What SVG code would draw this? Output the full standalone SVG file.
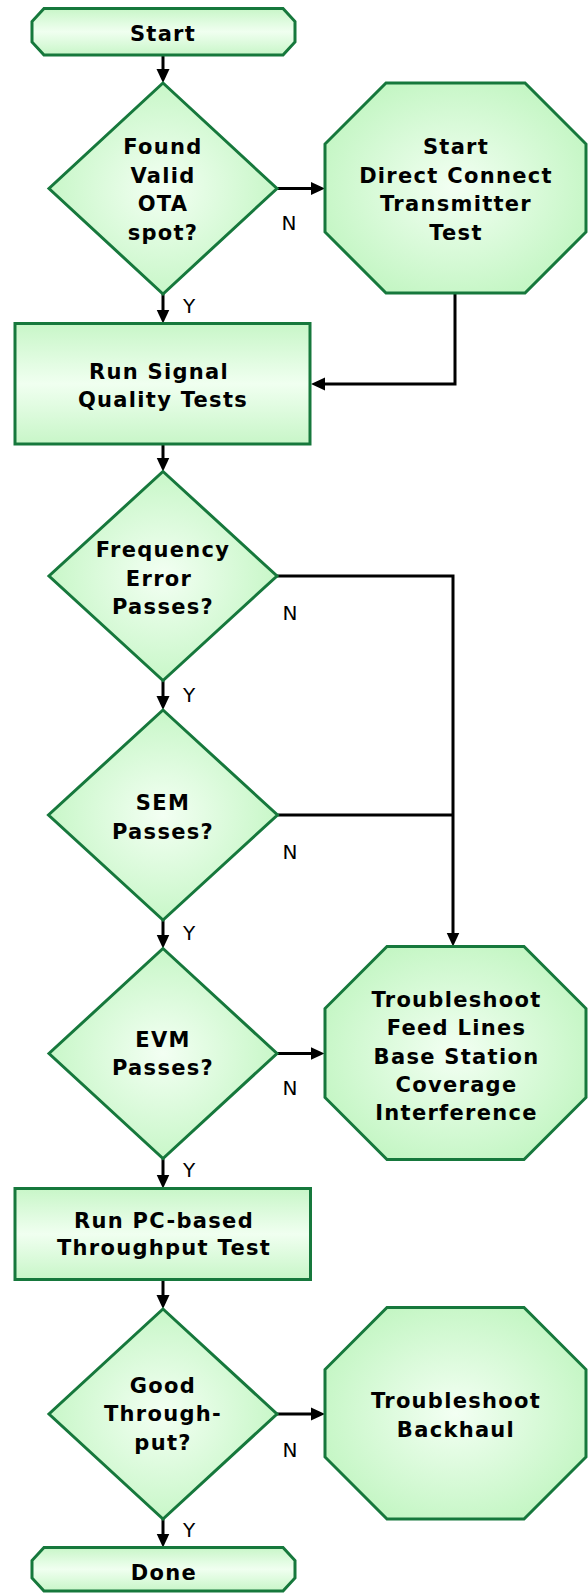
<svg xmlns="http://www.w3.org/2000/svg" width="588" height="1593" viewBox="0 0 588 1593">
  <defs>
    <radialGradient id="rg" cx="50%" cy="50%" r="55%">
      <stop offset="0" stop-color="#f3fff3"/>
      <stop offset="1" stop-color="#c4f6c4"/>
    </radialGradient>
    <linearGradient id="lg" x1="0" y1="0" x2="0" y2="1">
      <stop offset="0" stop-color="#c8f6c8"/>
      <stop offset="0.5" stop-color="#f0fff0"/>
      <stop offset="1" stop-color="#c8f6c8"/>
    </linearGradient>
    <marker id="arr" markerUnits="userSpaceOnUse" markerWidth="14" markerHeight="14" refX="5" refY="7" orient="auto">
      <path d="M0,0.5 L14,7 L0,13.5 z" fill="#000"/>
    </marker>
    <style>
      .sh { stroke: #16783c; stroke-width: 3; stroke-linejoin: miter; }
      .rad { fill: url(#rg); }
      .lin { fill: url(#lg); }
      .t { font-family: "DejaVu Sans", Verdana, sans-serif; font-weight: bold; font-size: 21px; letter-spacing: 1.3px; fill: #000; text-anchor: middle; }
      .lb { font-family: "DejaVu Sans", Verdana, sans-serif; font-size: 20px; fill: #000; text-anchor: middle; }
      .c { fill: none; stroke: #000; stroke-width: 3; }
    </style>
  </defs>

  <g id="connectors">
    <path class="c" d="M163,55 V74" marker-end="url(#arr)"/>
    <path class="c" d="M277,188.5 H316" marker-end="url(#arr)"/>
    <path class="c" d="M163,294 V314.5" marker-end="url(#arr)"/>
    <path class="c" d="M455,293 V384 H320" marker-end="url(#arr)"/>
    <path class="c" d="M163,444 V462.5" marker-end="url(#arr)"/>
    <path class="c" d="M277,576 H453 V937.5" marker-end="url(#arr)"/>
    <path class="c" d="M163,680.5 V701" marker-end="url(#arr)"/>
    <path class="c" d="M277.5,815 H453"/>
    <path class="c" d="M163,920 V939.5" marker-end="url(#arr)"/>
    <path class="c" d="M277,1053.5 H315.5" marker-end="url(#arr)"/>
    <path class="c" d="M163,1158.5 V1179.5" marker-end="url(#arr)"/>
    <path class="c" d="M163,1279.5 V1300" marker-end="url(#arr)"/>
    <path class="c" d="M277,1414 H316" marker-end="url(#arr)"/>
    <path class="c" d="M163,1519 V1538.5" marker-end="url(#arr)"/>
    <text class="lb" x="289" y="230">N</text>
    <text class="lb" x="189" y="313">Y</text>
    <text class="lb" x="290" y="619.5">N</text>
    <text class="lb" x="189" y="701.5">Y</text>
    <text class="lb" x="290" y="858.5">N</text>
    <text class="lb" x="189" y="940">Y</text>
    <text class="lb" x="290" y="1095">N</text>
    <text class="lb" x="189" y="1176.5">Y</text>
    <text class="lb" x="290" y="1456.5">N</text>
    <text class="lb" x="189" y="1536.5">Y</text>
  </g>

  <g id="start">
    <polygon class="sh lin" points="44,8.5 283,8.5 295,21.5 295,42 283,55 44,55 32,42 32,21.5"/>
    <text class="t" x="163" y="41">Start</text>
  </g>

  <g id="found-valid">
    <polygon class="sh rad" points="163,83 277,188.5 163,294 49,188.5"/>
    <text class="t" x="163" y="154">Found</text>
    <text class="t" x="163" y="182.5">Valid</text>
    <text class="t" x="163" y="211">OTA</text>
    <text class="t" x="163" y="239.5">spot?</text>
  </g>

  <g id="direct-connect">
    <polygon class="sh rad" points="386,83 525,83 586,144 586,232 525,293 386,293 325,232 325,144"/>
    <text class="t" x="456" y="154">Start</text>
    <text class="t" x="456" y="182.5">Direct Connect</text>
    <text class="t" x="456" y="211">Transmitter</text>
    <text class="t" x="456" y="239.5">Test</text>
  </g>

  <g id="run-signal">
    <rect class="sh lin" x="15" y="323.5" width="295" height="120.5"/>
    <text class="t" x="159" y="379">Run Signal</text>
    <text class="t" x="163" y="406.5">Quality Tests</text>
  </g>

  <g id="freq-error">
    <polygon class="sh rad" points="163,471.5 277,576 163,680.5 49,576"/>
    <text class="t" x="163" y="556.5">Frequency</text>
    <text class="t" x="159" y="585.5">Error</text>
    <text class="t" x="163" y="614">Passes?</text>
  </g>

  <g id="sem">
    <polygon class="sh rad" points="163,710 277.5,815 163,920 48.5,815"/>
    <text class="t" x="163" y="810">SEM</text>
    <text class="t" x="163" y="838.5">Passes?</text>
  </g>

  <g id="troubleshoot-feed">
    <polygon class="sh rad" points="387,946.5 524,946.5 586,1008.5 586,1097.5 524,1159.5 387,1159.5 325,1097.5 325,1008.5"/>
    <text class="t" x="456.5" y="1007">Troubleshoot</text>
    <text class="t" x="456.5" y="1035">Feed Lines</text>
    <text class="t" x="456.5" y="1063.5">Base Station</text>
    <text class="t" x="456.5" y="1091.5">Coverage</text>
    <text class="t" x="456.5" y="1120">Interference</text>
  </g>

  <g id="evm">
    <polygon class="sh rad" points="163,948.5 277,1053.5 163,1158.5 49,1053.5"/>
    <text class="t" x="163" y="1046.5">EVM</text>
    <text class="t" x="163" y="1075">Passes?</text>
  </g>

  <g id="run-pc">
    <rect class="sh lin" x="15" y="1188.5" width="295.5" height="91"/>
    <text class="t" x="164" y="1227.5">Run PC-based</text>
    <text class="t" x="164" y="1255">Throughput Test</text>
  </g>

  <g id="good-throughput">
    <polygon class="sh rad" points="163,1309 277,1414 163,1519 49,1414"/>
    <text class="t" x="163" y="1392.5">Good</text>
    <text class="t" x="163" y="1421">Through-</text>
    <text class="t" x="163" y="1449.5">put?</text>
  </g>

  <g id="troubleshoot-backhaul">
    <polygon class="sh rad" points="387,1307.5 524,1307.5 586,1369.5 586,1457 524,1519 387,1519 325,1457 325,1369.5"/>
    <text class="t" x="456" y="1408">Troubleshoot</text>
    <text class="t" x="456" y="1436.5">Backhaul</text>
  </g>

  <g id="done">
    <polygon class="sh lin" points="44,1547.5 283,1547.5 295,1560.5 295,1578 283,1591 44,1591 32,1578 32,1560.5"/>
    <text class="t" x="164" y="1580">Done</text>
  </g>
</svg>
